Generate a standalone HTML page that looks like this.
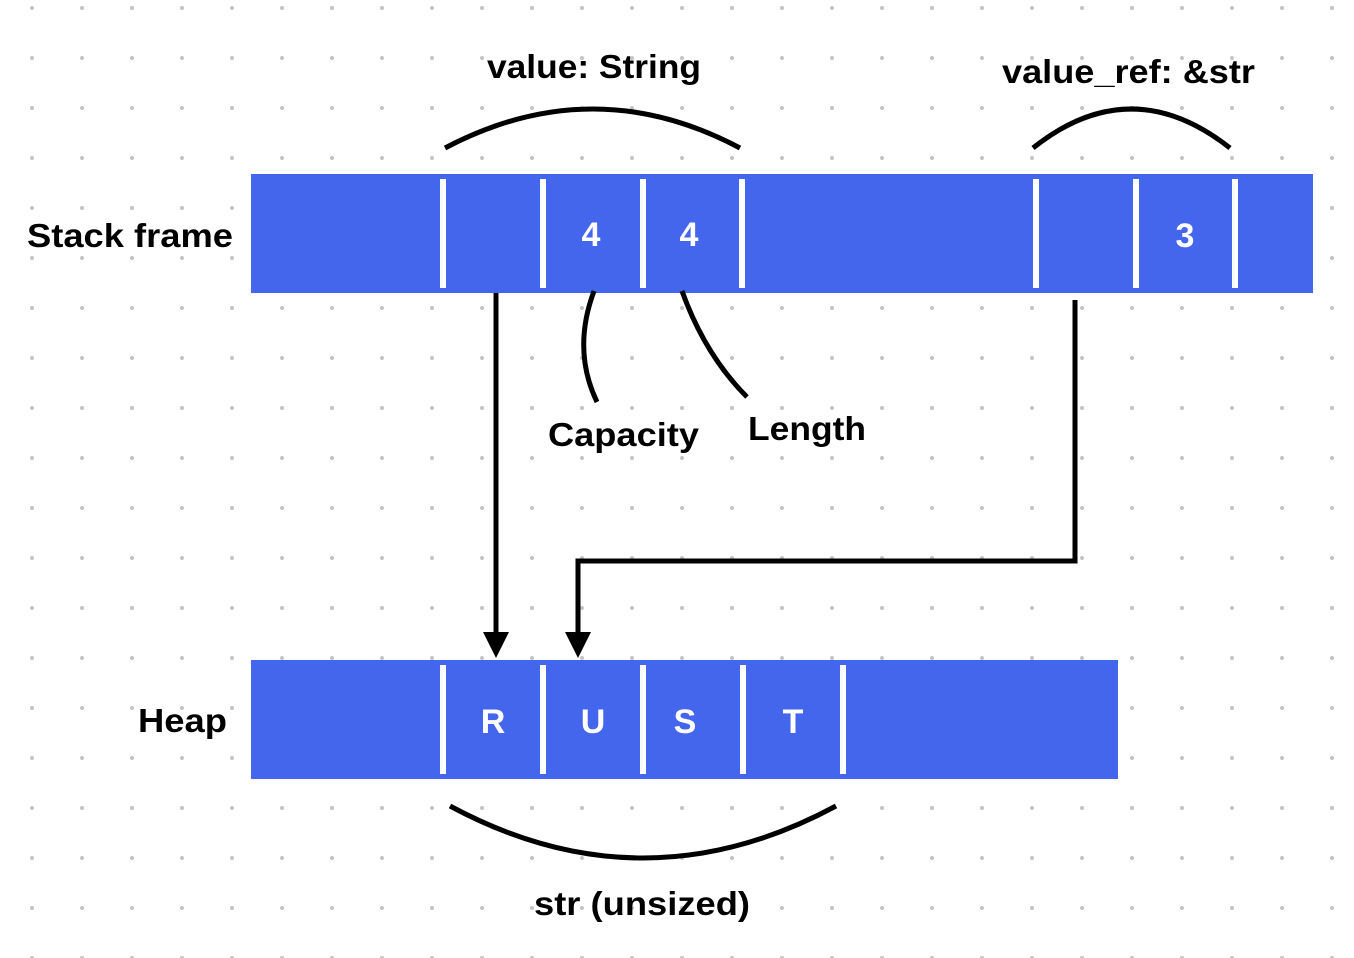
<!DOCTYPE html>
<html><head><style>
html,body{margin:0;padding:0;background:#fff;}
svg{display:block;}
text{font-family:"Liberation Sans",sans-serif;font-weight:bold;}
</style></head><body>
<svg width="1354" height="958" viewBox="0 0 1354 958" xmlns="http://www.w3.org/2000/svg">
<defs>
<pattern id="dots" x="0" y="0" width="50" height="50" patternUnits="userSpaceOnUse">
<circle cx="32" cy="8" r="2" fill="#c4c4c4"/>
</pattern>
</defs>
<rect width="1354" height="958" fill="url(#dots)"/>
<rect x="251" y="174" width="1062" height="119" fill="#4466ec"/>
<g fill="#fff">
<rect x="440" y="179" width="6" height="109"/>
<rect x="540" y="179" width="6" height="109"/>
<rect x="640" y="179" width="6" height="109"/>
<rect x="739" y="179" width="6" height="109"/>
<rect x="1033" y="179" width="6" height="109"/>
<rect x="1133" y="179" width="6" height="109"/>
<rect x="1232" y="179" width="6" height="109"/>
</g>
<rect x="251" y="660" width="867" height="119" fill="#4466ec"/>
<g fill="#fff">
<rect x="440" y="665" width="6" height="109"/>
<rect x="540" y="665" width="6" height="109"/>
<rect x="640" y="665" width="6" height="109"/>
<rect x="740" y="665" width="6" height="109"/>
<rect x="840" y="665" width="6" height="109"/>
</g>
<g fill="#fff" font-size="34" text-anchor="middle">
<text x="591" y="246">4</text>
<text x="689" y="246">4</text>
<text x="1185" y="247">3</text>
<text x="493" y="733">R</text>
<text x="593" y="733">U</text>
<text x="685" y="733">S</text>
<text x="793" y="733">T</text>
</g>
<g fill="none" stroke="#000" stroke-width="5">
<path d="M445 148 Q593 70 740 148"/>
<path d="M1033 148 Q1131 70 1230 148"/>
<path d="M450 806 Q643 910 836 806"/>
<path d="M594 291 Q572 350 597 402"/>
<path d="M682 291 Q705 355 747 397"/>
<path d="M496 293 V635"/>
<path d="M1075 300 V561 H578 V635"/>
</g>
<polygon points="483,632 509,632 496,658" fill="#000"/>
<polygon points="565,632 591,632 578,658" fill="#000"/>
<g fill="#000" font-size="33">
<text x="487" y="78" textLength="214" lengthAdjust="spacingAndGlyphs">value: String</text>
<text x="1002" y="83" textLength="253" lengthAdjust="spacingAndGlyphs">value_ref: &amp;str</text>
<text x="27" y="247" textLength="206" lengthAdjust="spacingAndGlyphs">Stack frame</text>
<text x="138" y="732" textLength="89" lengthAdjust="spacingAndGlyphs">Heap</text>
<text x="548" y="446" textLength="151" lengthAdjust="spacingAndGlyphs">Capacity</text>
<text x="748" y="440" textLength="118" lengthAdjust="spacingAndGlyphs">Length</text>
<text x="534" y="915" textLength="216" lengthAdjust="spacingAndGlyphs">str (unsized)</text>
</g>
</svg>
</body></html>
